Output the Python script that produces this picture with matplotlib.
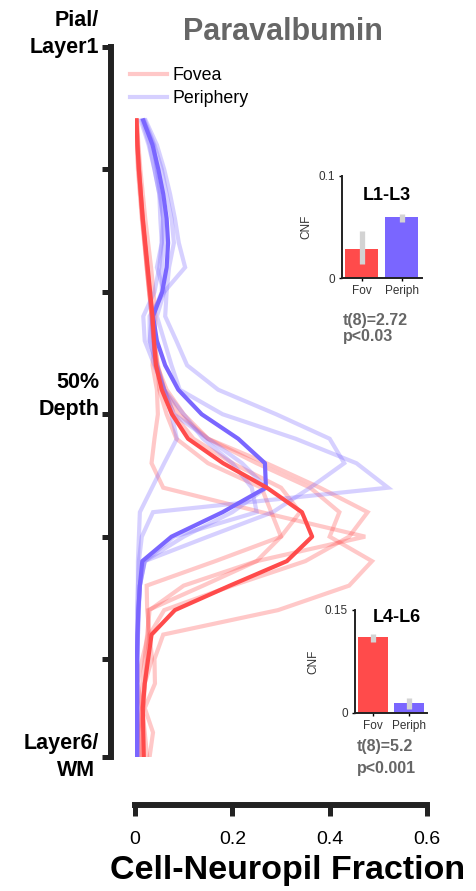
import matplotlib
matplotlib.use("Agg")
import matplotlib.pyplot as plt
import numpy as np

plt.rcParams['font.family'] = ['Liberation Sans', 'DejaVu Sans']

# ---------------- data ----------------
depth_bins = list(range(3, 30))  # cortical depth bins (0 = pial, 29 = WM)
depth_ticks = [0, 5, 10, 15, 20, 25, 29]
x_ticks = [0, 0.2, 0.4, 0.6]

fovea_mean = [0.003, 0.005, 0.008, 0.012, 0.016, 0.021, 0.026, 0.031, 0.036, 0.039,
              0.043, 0.055, 0.076, 0.109, 0.181, 0.271, 0.343, 0.364, 0.312, 0.195,
              0.082, 0.034, 0.027, 0.020, 0.016, 0.017, 0.018]
periph_mean = [0.017, 0.036, 0.048, 0.058, 0.065, 0.068, 0.065, 0.056, 0.037, 0.045,
               0.062, 0.089, 0.137, 0.212, 0.267, 0.269, 0.180, 0.075, 0.015, 0.010,
               0.007, 0.005, 0.004, 0.004, 0.004, 0.004, 0.004]

fovea_subjects = [
    [0.002, 0.004, 0.007, 0.011, 0.015, 0.020, 0.025, 0.030, 0.035, 0.038, 0.042,
     0.060, 0.090, 0.150, 0.270, 0.380, 0.478, 0.440, 0.350, 0.200, 0.060, 0.030,
     0.025, 0.020, 0.015, 0.020, 0.025],
    [0.004, 0.007, 0.011, 0.016, 0.021, 0.027, 0.033, 0.038, 0.042, 0.040, 0.036,
     0.045, 0.047, 0.040, 0.034, 0.058, 0.260, 0.473, 0.250, 0.100, 0.030, 0.025,
     0.020, 0.015, 0.012, 0.012, 0.015],
    [0.003, 0.005, 0.008, 0.012, 0.016, 0.020, 0.025, 0.030, 0.034, 0.038, 0.045,
     0.065, 0.100, 0.150, 0.250, 0.360, 0.420, 0.400, 0.487, 0.440, 0.294, 0.058,
     0.040, 0.041, 0.020, 0.037, 0.030],
    [0.002, 0.004, 0.006, 0.010, 0.014, 0.019, 0.024, 0.029, 0.034, 0.039, 0.047,
     0.060, 0.080, 0.120, 0.200, 0.300, 0.339, 0.300, 0.165, 0.024, 0.025, 0.030,
     0.035, 0.020, 0.018, 0.010, 0.012],
    [0.004, 0.006, 0.009, 0.012, 0.015, 0.020, 0.024, 0.029, 0.035, 0.040, 0.046,
     0.050, 0.065, 0.085, 0.150, 0.260, 0.280, 0.300, 0.250, 0.140, 0.027, 0.027,
     0.015, 0.005, 0.015, 0.006, 0.008],
]
periph_subjects = [
    [0.022, 0.045, 0.060, 0.072, 0.082, 0.090, 0.103, 0.060, 0.045, 0.060, 0.075,
     0.092, 0.180, 0.330, 0.455, 0.520, 0.037, 0.014, 0.008, 0.006, 0.005, 0.004,
     0.004, 0.004, 0.004, 0.004, 0.004],
    [0.020, 0.040, 0.055, 0.065, 0.075, 0.080, 0.070, 0.065, 0.062, 0.085, 0.107,
     0.171, 0.290, 0.400, 0.430, 0.360, 0.283, 0.150, 0.020, 0.010, 0.007, 0.006,
     0.005, 0.005, 0.005, 0.005, 0.005],
    [0.015, 0.030, 0.040, 0.050, 0.058, 0.060, 0.055, 0.055, 0.035, 0.030, 0.045,
     0.060, 0.080, 0.150, 0.220, 0.270, 0.200, 0.100, 0.020, 0.010, 0.007, 0.006,
     0.005, 0.005, 0.005, 0.005, 0.005],
    [0.018, 0.038, 0.045, 0.052, 0.058, 0.055, 0.050, 0.040, 0.017, 0.020, 0.040,
     0.060, 0.075, 0.086, 0.060, 0.035, 0.010, 0.008, 0.006, 0.006, 0.005, 0.005,
     0.004, 0.004, 0.004, 0.004, 0.004],
    [0.012, 0.028, 0.040, 0.050, 0.052, 0.055, 0.045, 0.060, 0.030, 0.030, 0.045,
     0.060, 0.100, 0.140, 0.200, 0.240, 0.250, 0.080, 0.020, 0.010, 0.008, 0.006,
     0.005, 0.005, 0.005, 0.005, 0.005],
]

groups = ["Fov", "Periph"]
l13_means = [0.0283, 0.0595]
l13_err_lo = [0.014, 0.0549]
l13_err_hi = [0.046, 0.0627]
l46_means = [0.110, 0.0137]
l46_err_lo = [0.1037, 0.005]
l46_err_hi = [0.1149, 0.021]

RED = '#FF4B4B'
BLUE = '#7A66FF'
W, H = 476, 891
PT = 0.72  # points per pixel at 100 dpi

fig = plt.figure(figsize=(W / 100, H / 100), dpi=100)


def px_axes(l, t, r, b):
    return fig.add_axes([l / W, 1 - b / H, (r - l) / W, (b - t) / H])


# ---------------- main axes ----------------
ax = px_axes(135, 47, 427, 757)
for prof in fovea_subjects:
    ax.plot(prof, depth_bins, color=RED, alpha=0.3, lw=3, solid_joinstyle='miter')
for prof in periph_subjects:
    ax.plot(prof, depth_bins, color=BLUE, alpha=0.3, lw=3, solid_joinstyle='miter')
ax.plot(periph_mean, depth_bins, color=BLUE, lw=3)
ax.plot(fovea_mean, depth_bins, color=RED, lw=3)

ax.set_xlim(0, 0.6)
ax.set_ylim(29, 0)
ax.spines['top'].set_visible(False)
ax.spines['right'].set_visible(False)
ax.spines['left'].set_position(('outward', 24 * PT))
ax.spines['bottom'].set_position(('outward', 48 * PT))
ax.spines['left'].set_bounds(0, 29)
ax.spines['bottom'].set_bounds(0, 0.6)
for s in ['left', 'bottom']:
    ax.spines[s].set_linewidth(4.3)
    ax.spines[s].set_color('#222222')
    ax.spines[s].set_capstyle('projecting')
ax.set_yticks(depth_ticks)
ax.set_yticklabels([])
ax.set_xticks(x_ticks)
ax.set_xticklabels(['0', '0.2', '0.4', '0.6'])
ax.tick_params(axis='y', length=6.5, width=3.6, color='#222222')
ax.tick_params(axis='x', length=8, width=3.6, color='#222222', labelsize=14, pad=11)

# legend
from matplotlib.lines import Line2D
handles = [Line2D([], [], color=RED, alpha=0.3, lw=3),
           Line2D([], [], color=BLUE, alpha=0.3, lw=3)]
ax.legend(handles, ['Fovea', 'Periphery'], loc='upper left',
          bbox_to_anchor=((130 - 135) / 292, (757 - 67) / 710), frameon=False,
          fontsize=12.8, handlelength=2.1, handletextpad=0.3, labelspacing=0.35,
          borderpad=0, borderaxespad=0)

# texts
fig.text(283 / W, 1 - 32 / H, 'Paravalbumin', ha='center', va='center',
         fontsize=22, fontweight='bold', color='#666666')
lab = dict(ha='right', va='center', fontsize=15.5, fontweight='bold', color='black')
fig.text(99 / W, 1 - 20 / H, 'Pial/', **lab)
fig.text(99 / W, 1 - 48 / H, 'Layer1', **lab)
fig.text(99 / W, 1 - 382 / H, '50%', **lab)
fig.text(100 / W, 1 - 409 / H, 'Depth', **lab)
fig.text(99 / W, 1 - 744 / H, 'Layer6/', **lab)
fig.text(95 / W, 1 - 770 / H, 'WM', **lab)
fig.text(288 / W, 1 - 870 / H, 'Cell-Neuropil Fraction', ha='center', va='center',
         fontsize=24.5, fontweight='bold', color='black')


# ---------------- insets ----------------
def inset(box, means, lo, hi, ymax, ytl, title, tpos):
    a = px_axes(*box)
    xs = [1, 2]
    a.bar(xs, means, width=0.82, color=[RED, BLUE])
    a.vlines(xs, lo, hi, color='#D3D3D3', lw=3.8)
    a.set_xlim(0.5, 2.5)
    a.set_ylim(0, ymax)
    a.set_yticks([0, ymax])
    a.set_yticklabels(['0', ytl])
    a.set_xticks(xs)
    a.set_xticklabels(groups)
    for s in ['top', 'right']:
        a.spines[s].set_visible(False)
    for s in ['left', 'bottom']:
        a.spines[s].set_linewidth(1.4)
        a.spines[s].set_color('#222222')
    a.tick_params(length=2, width=1, labelsize=8.5, labelcolor='#333333', pad=3)
    a.set_ylabel('CNF', fontsize=8.5, color='#333333', labelpad=4)
    a.text(tpos[0], tpos[1], title, transform=a.transAxes, ha='center', va='center',
           fontsize=13, fontweight='bold', color='black')
    return a


inset((341.7, 175.7, 421.7, 278.3), l13_means, l13_err_lo, l13_err_hi, 0.1, '0.1',
      'L1-L3', (0.57, 0.81))
inset((355, 610, 427.3, 712.7), l46_means, l46_err_lo, l46_err_hi, 0.15, '0.15',
      'L4-L6', (0.58, 0.93))

st = dict(ha='left', va='center', fontsize=11.5, fontweight='bold', color='#666666')
fig.text(343 / W, 1 - 321 / H, 't(8)=2.72', **st)
fig.text(343 / W, 1 - 337 / H, 'p<0.03', **st)
fig.text(357 / W, 1 - 746 / H, 't(8)=5.2', **st)
fig.text(357 / W, 1 - 768 / H, 'p<0.001', **st)

fig.savefig('out.png', dpi=100)
